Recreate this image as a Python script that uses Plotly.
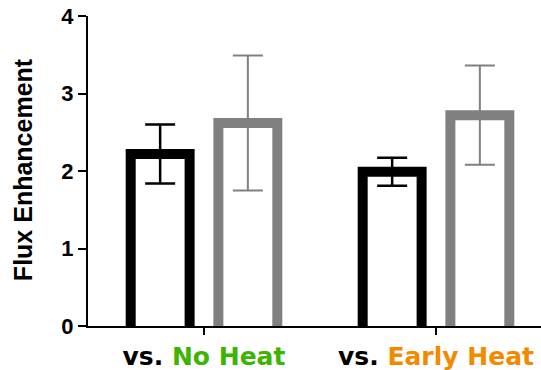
import plotly.graph_objects as go

# Data
categories = ["vs. No Heat", "vs. Early Heat"]
tick_labels = [
    "vs. <span style='color:#3cb400'>No Heat</span>",
    "vs. <span style='color:#f28a00'>Early Heat</span>",
]
series_a_mean = [2.22, 1.99]
series_a_err = [0.38, 0.18]
series_b_mean = [2.62, 2.72]
series_b_err = [0.87, 0.64]

# Bars start slightly below zero so the bottom edge of the outline is clipped away
BASE = -0.1
FONT = "DejaVu Sans"
FONT_Y = "Liberation Sans"

fig = go.Figure()
for means, errs, color, ewidth in [
    (series_a_mean, series_a_err, "#000000", 2.5),
    (series_b_mean, series_b_err, "#808080", 2),
]:
    fig.add_trace(go.Bar(
        x=categories,
        y=[m - BASE for m in means],
        base=BASE,
        marker=dict(color="white", line=dict(color=color, width=10)),
        error_y=dict(type="data", array=errs, visible=True,
                     color=color, thickness=ewidth, width=15),
        showlegend=False,
        hoverinfo="skip",
    ))

fig.update_layout(
    width=541, height=370,
    margin=dict(l=88, r=0, t=16, b=44),
    paper_bgcolor="white", plot_bgcolor="white",
    barmode="group", bargap=0.244, bargroupgap=0.328,
    xaxis=dict(
        range=[-0.5, 1.4526],
        tickvals=categories, ticktext=tick_labels,
        showline=True, linecolor="black", linewidth=2,
        ticks="outside", ticklen=7, tickwidth=2, tickcolor="black",
        showgrid=False, zeroline=False,
        tickfont=dict(family=FONT, size=25, color="black", weight="bold"),
    ),
    yaxis=dict(
        range=[0, 4], tickvals=[0, 1, 2, 3, 4],
        showline=True, linecolor="black", linewidth=2,
        ticks="outside", ticklen=8, tickwidth=2, tickcolor="black",
        showgrid=False, zeroline=False,
        tickfont=dict(family=FONT_Y, size=22, color="black", weight="bold"),
    ),
    annotations=[dict(
        text="Flux Enhancement", textangle=-90,
        x=-0.1435, y=0.506, xref="paper", yref="paper",
        xanchor="center", yanchor="middle", showarrow=False,
        font=dict(family=FONT_Y, size=25, color="black", weight="bold"),
    )],
)

fig.write_html("out.html")
